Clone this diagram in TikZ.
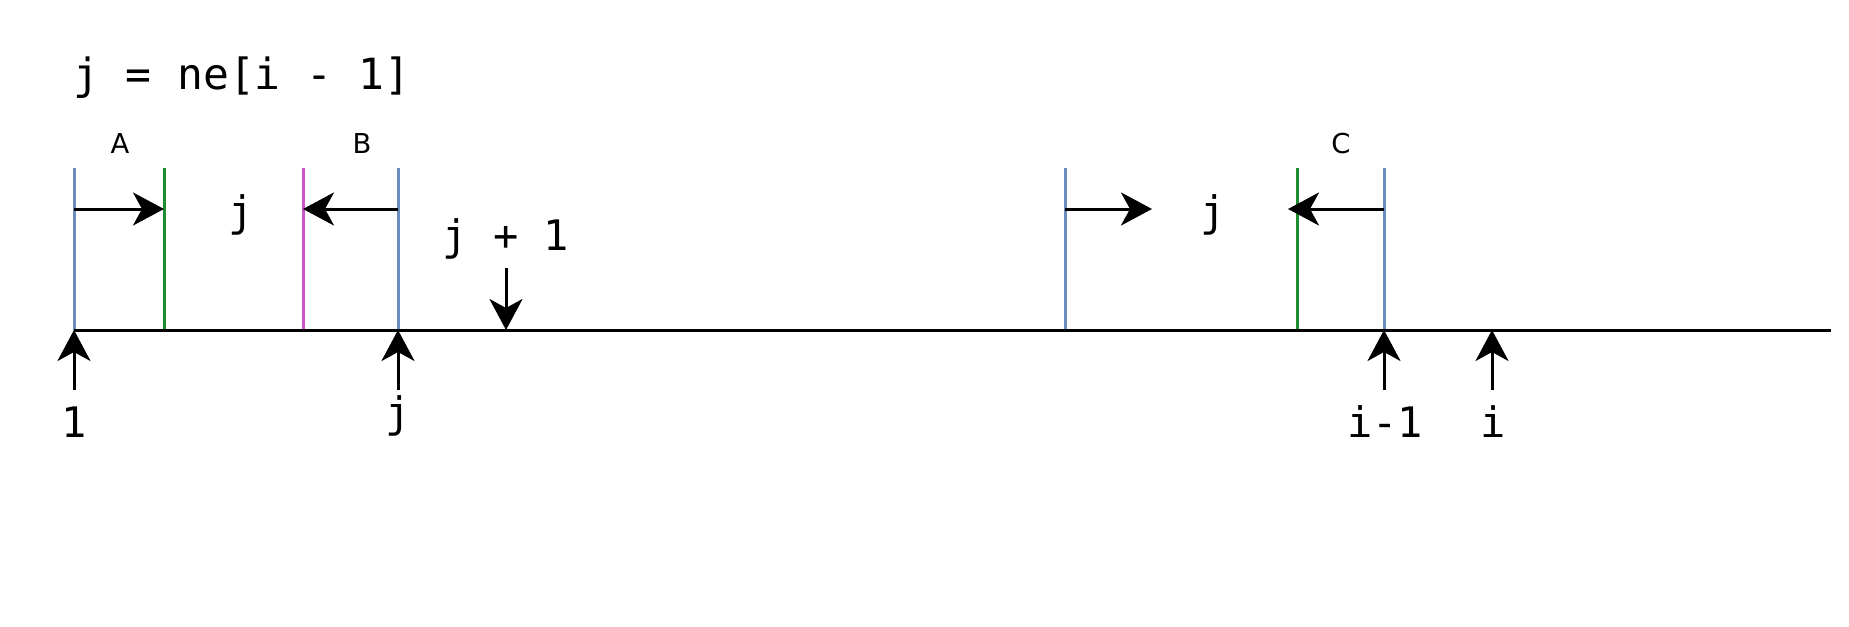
\documentclass[tikz,border=0pt]{standalone}
\usepackage{fontspec}
\setmainfont{DejaVu Sans Mono}
\newfontfamily\partfont{DejaVu Sans}
\usetikzlibrary{arrows.meta}

\definecolor{tickblue}{HTML}{6C8EBF}
\definecolor{tickgreen}{HTML}{1E8C2E}
\definecolor{tickpink}{HTML}{CC55CC}

\begin{document}
\begin{tikzpicture}[x=0.5pt,y=-0.5pt,
    blueline/.style={line width=1.5pt,tickblue},
    greenline/.style={line width=1.5pt,tickgreen},
    pinkline/.style={line width=1.5pt,tickpink},
    pointer/.style={line width=1.5pt,-{Stealth[length=15.5pt,width=16.5pt,inset=4.5pt]}},
    lbl/.style={anchor=base,inner sep=0pt,font=\fontsize{21}{21}\selectfont},
    part/.style={anchor=base,inner sep=0pt,font=\partfont\fontsize{13.7}{13.7}\selectfont}]
  \useasboundingbox (0,0) rectangle (1849,627);

	% Ticks on the line
	\foreach \name/\x in {b1/74,g1/164,m1/303,b2/398,b3/1065,g2/1297,b4/1384,ii/1492}
	  {
	    \coordinate (\name) at (\x,330);
	    \coordinate (\name-top) at (\x,168);
	    \coordinate (\name-mid) at (\x,209);
	    \coordinate (\name-low) at (\x,390);
	  }
	\draw[blueline] (b1) -- (b1-top);
	\draw[blueline] (b2) -- (b2-top);
	\draw[blueline] (b3) -- (b3-top);
	\draw[blueline] (b4) -- (b4-top);
	\draw[greenline] (g1) -- (g1-top);
	\draw[greenline] (g2) -- (g2-top);
	\draw[pinkline] (m1) -- (m1-top);

	% Line
	\coordinate (end) at (1831,330);
	\draw[line width=1.5pt] (b1) -- (end);

	% Text
	\node[lbl,font=\fontsize{21.5}{21.5}\selectfont] (def) at (242,89) {j = ne[i - 1]};
	\node[part] (A) at (120,153) {A};
	\node[part] (B) at (362,153) {B};
	\node[part] (C) at (1341,153) {C};
	\node[lbl] (jl) at (241,226) {j};
	\node[lbl] (jr) at (1213,226) {j};
	\node[lbl] (jnext) at (506,250) {j + 1};
	\node[lbl] (one) at (74,437) {1};
	\node[lbl] (jbot) at (398,427) {j};
	\node[lbl] (iprev) at (1385,437) {i-1};
	\node[lbl] (icur) at (1493,437) {i};

	% Moving ends
	\coordinate (rtip) at (1152,209);
	\coordinate (ctip) at (1288,209);
	\draw[pointer] (b1-mid) -- (g1-mid);
	\draw[pointer] (b2-mid) -- (m1-mid);
	\draw[pointer] (b3-mid) -- (rtip);
	\draw[pointer] (b4-mid) -- (ctip);

	% Positions
	\coordinate (nexttop) at (506,268);
	\coordinate (next) at (506,330);
	\draw[pointer] (nexttop) -- (next);
	\foreach \name in {b1,b2,b4,ii}
	  \draw[pointer] (\name-low) -- (\name);
\end{tikzpicture}
\end{document}
